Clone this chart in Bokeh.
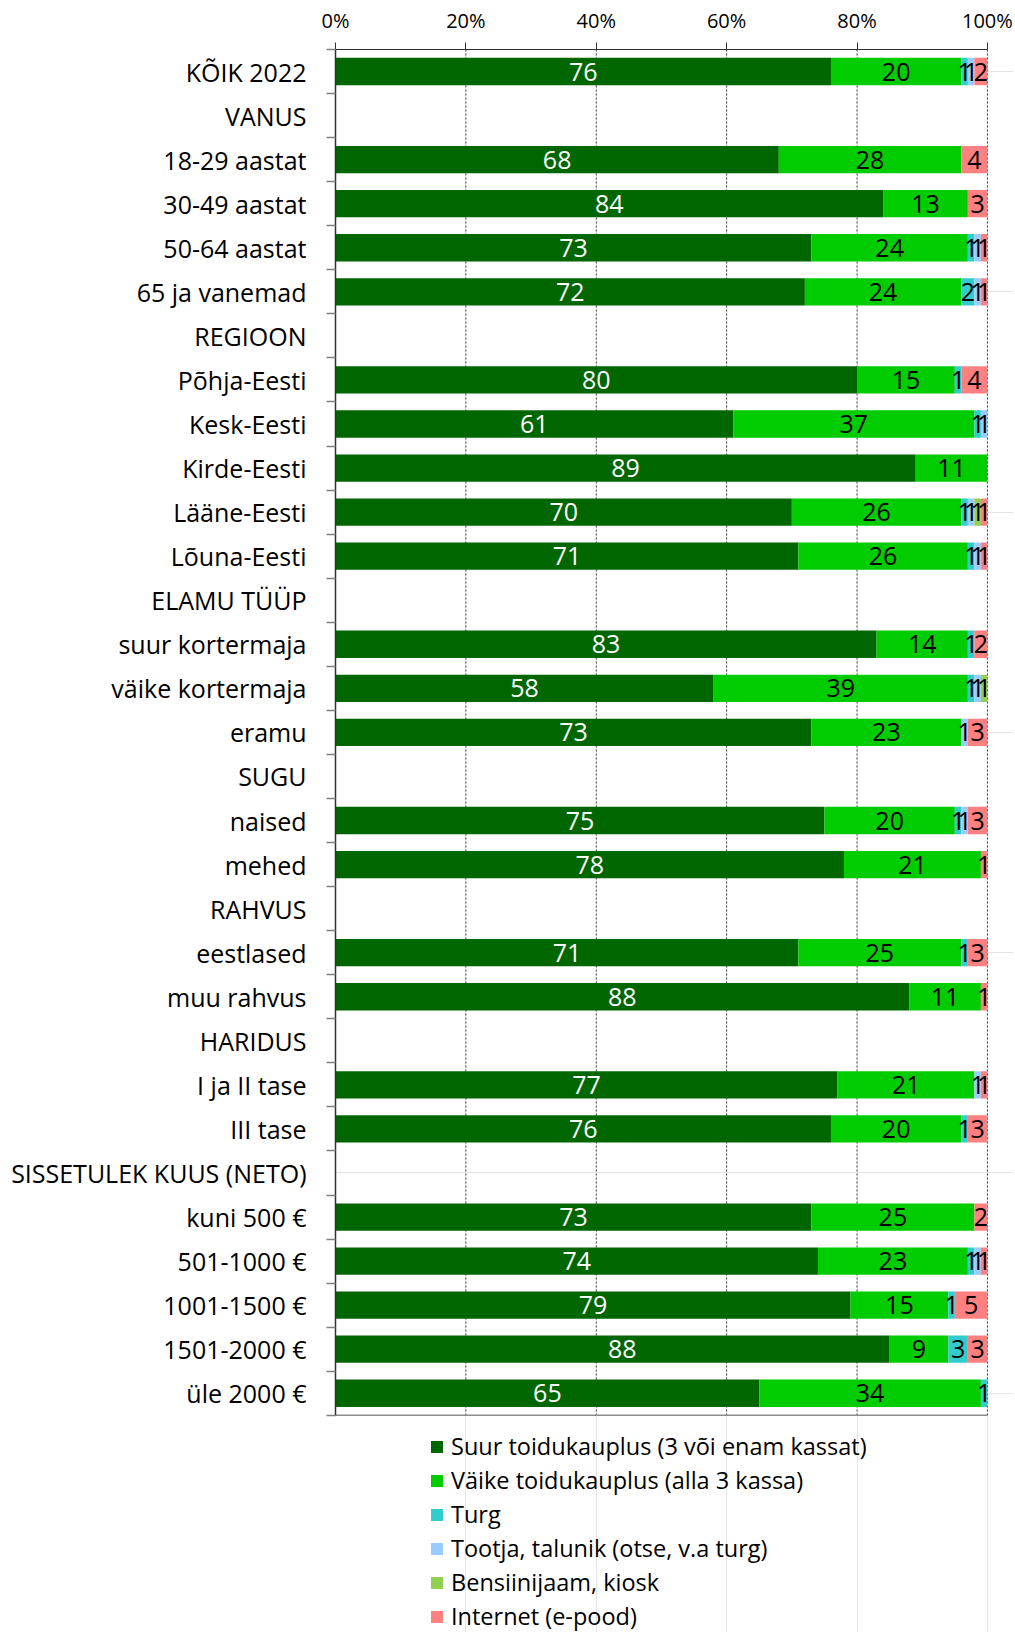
from bokeh.plotting import figure
from bokeh.models import (Range1d, LinearAxis, FixedTicker, PrintfTickFormatter,
                          Legend, LegendItem, ColumnDataSource)
from bokeh.core.properties import value
from bokeh.embed import file_html
from bokeh.resources import INLINE

categories = [
    "KÕIK 2022", "VANUS", "18-29 aastat", "30-49 aastat", "50-64 aastat",
    "65 ja vanemad", "REGIOON", "Põhja-Eesti", "Kesk-Eesti", "Kirde-Eesti",
    "Lääne-Eesti", "Lõuna-Eesti", "ELAMU TÜÜP", "suur kortermaja",
    "väike kortermaja", "eramu", "SUGU", "naised", "mehed", "RAHVUS",
    "eestlased", "muu rahvus", "HARIDUS", "I ja II tase", "III tase",
    "SISSETULEK KUUS (NETO)", "kuni 500 €", "501-1000 €", "1001-1500 €",
    "1501-2000 €", "üle 2000 €",
]

series_names = [
    "Suur toidukauplus (3 või enam kassat)",
    "Väike toidukauplus (alla 3 kassa)",
    "Turg",
    "Tootja, talunik (otse, v.a turg)",
    "Bensiinijaam, kiosk",
    "Internet (e-pood)",
]
colors = ["#006600", "#00CC00", "#33CCCC", "#99CCFF", "#92D050", "#FF8080"]
label_colors = ["white", "black", "black", "black", "black", "black"]

suur     = [76, 0, 68, 84, 73, 72, 0, 80, 61, 89, 70, 71, 0, 83, 58, 73, 0, 75, 78, 0, 71, 88, 0, 77, 76, 0, 73, 74, 79, 85, 65]
vaike    = [20, 0, 28, 13, 24, 24, 0, 15, 37, 11, 26, 26, 0, 14, 39, 23, 0, 20, 21, 0, 25, 11, 0, 21, 20, 0, 25, 23, 15, 9, 34]
turg     = [1, 0, 0, 0, 1, 2, 0, 1, 1, 0, 1, 1, 0, 1, 1, 0, 0, 1, 0, 0, 1, 0, 0, 0, 1, 0, 0, 1, 1, 3, 1]
tootja   = [1, 0, 0, 0, 1, 1, 0, 0, 1, 0, 1, 1, 0, 0, 1, 1, 0, 1, 0, 0, 0, 0, 0, 1, 0, 0, 0, 1, 0, 0, 0]
bensiin  = [0, 0, 0, 0, 0, 0, 0, 0, 0, 0, 1, 0, 0, 0, 1, 0, 0, 0, 0, 0, 0, 0, 0, 0, 0, 0, 0, 0, 0, 0, 0]
internet = [2, 0, 4, 3, 1, 1, 0, 4, 0, 0, 1, 1, 0, 2, 0, 3, 0, 3, 1, 0, 3, 1, 0, 1, 3, 0, 2, 1, 5, 3, 0]
# printed label of the first series (one printed label differs from its bar)
suur_labels = [76, 0, 68, 84, 73, 72, 0, 80, 61, 89, 70, 71, 0, 83, 58, 73, 0, 75, 78, 0, 71, 88, 0, 77, 76, 0, 73, 74, 79, 88, 65]

x_ticks = [0, 20, 40, 60, 80, 100]
grid_ticks = [20, 40, 60, 80, 100]

n = len(categories)
keys = ["s0", "s1", "s2", "s3", "s4", "s5"]
series = [suur, vaike, turg, tootja, bensiin, internet]
data = {"y": list(range(n))}
for k, s in zip(keys, series):
    data[k] = s
source = ColumnDataSource(data)

# the frame reaches down to the page bottom so the legend below the bars is not clipped
p = figure(width=1015, height=1632,
           x_range=Range1d(0, 104), y_range=Range1d(35.43, -0.5),
           output_backend="svg", toolbar_location=None,
           x_axis_location=None, y_axis_location=None,
           min_border_left=335, min_border_right=2,
           min_border_top=49, min_border_bottom=0)
p.outline_line_color = None
p.background_fill_color = "white"
p.border_fill_color = "white"

# dashed vertical gridlines, limited to the bar area
p.segment(x0=grid_ticks, y0=[-0.5] * len(grid_ticks),
          x1=grid_ticks, y1=[n - 0.5] * len(grid_ticks),
          line_color="#404040", line_dash="2 2", line_width=1)
# bottom border line of the bar area
p.segment(x0=[x_ticks[0]], y0=[n - 0.5], x1=[x_ticks[-1]], y1=[n - 0.5],
          line_color="#8c8c8c", line_width=1.5)

renderers = p.hbar_stack(keys, y="y", height=0.62, fill_color=colors,
                         line_color=None, source=source)

# data labels
lx, ly, lt, lc = [], [], [], []
for i in range(n):
    left = 0
    for j, s in enumerate(series):
        v = s[i]
        if v > 0:
            shown = suur_labels[i] if j == 0 else v
            cx = left + (shown / 2 if j == 0 else v / 2)
            lx.append(cx)
            ly.append(i)
            lt.append(str(shown))
            lc.append(label_colors[j])
        left += v
lsrc = ColumnDataSource(dict(x=lx, y=ly, t=lt, c=lc))
p.text(x="x", y="y", text="t", text_color="c", source=lsrc,
       text_align="center", text_baseline="middle",
       text_font=value("Open Sans"), text_font_size=value("25px"))

# top percentage axis
xaxis = LinearAxis(ticker=FixedTicker(ticks=x_ticks),
                   formatter=PrintfTickFormatter(format="%d%%"),
                   bounds=(x_ticks[0], x_ticks[-1]))
xaxis.axis_line_color = "#303030"
xaxis.major_tick_line_color = "#303030"
xaxis.major_tick_out = 7
xaxis.major_tick_in = 0
xaxis.minor_tick_out = 0
xaxis.minor_tick_in = 0
xaxis.major_label_text_font = "Open Sans"
xaxis.major_label_text_font_size = "20px"
xaxis.major_label_text_color = "black"
xaxis.major_label_standoff = 9
p.add_layout(xaxis, "above")

# category axis
yaxis = LinearAxis(ticker=FixedTicker(ticks=list(range(n)),
                                      minor_ticks=[i - 0.5 for i in range(n + 1)]),
                   major_label_overrides={i: c for i, c in enumerate(categories)},
                   bounds=(-0.5, n - 0.5))
yaxis.axis_line_color = "#303030"
yaxis.axis_line_width = 1.5
yaxis.major_tick_out = 0
yaxis.major_tick_in = 0
yaxis.minor_tick_out = 9
yaxis.minor_tick_in = 0
yaxis.minor_tick_line_color = "#808080"
yaxis.minor_tick_line_width = 1.5
yaxis.major_label_text_font = "Open Sans"
yaxis.major_label_text_font_size = "25px"
yaxis.major_label_text_color = "black"
yaxis.major_label_standoff = 20
p.add_layout(yaxis, "left")

legend = Legend(items=[LegendItem(label=nm, renderers=[r]) for nm, r in zip(series_names, renderers)],
                location=(94, 0), orientation="vertical",
                label_text_font="Open Sans", label_text_font_size="23.5px",
                label_text_color="black",
                glyph_width=15, glyph_height=15, label_standoff=7,
                padding=0, margin=0, spacing=2, label_height=32,
                border_line_color=None, background_fill_alpha=0)
p.add_layout(legend)

open("out.html", "w").write(file_html(p, INLINE))
